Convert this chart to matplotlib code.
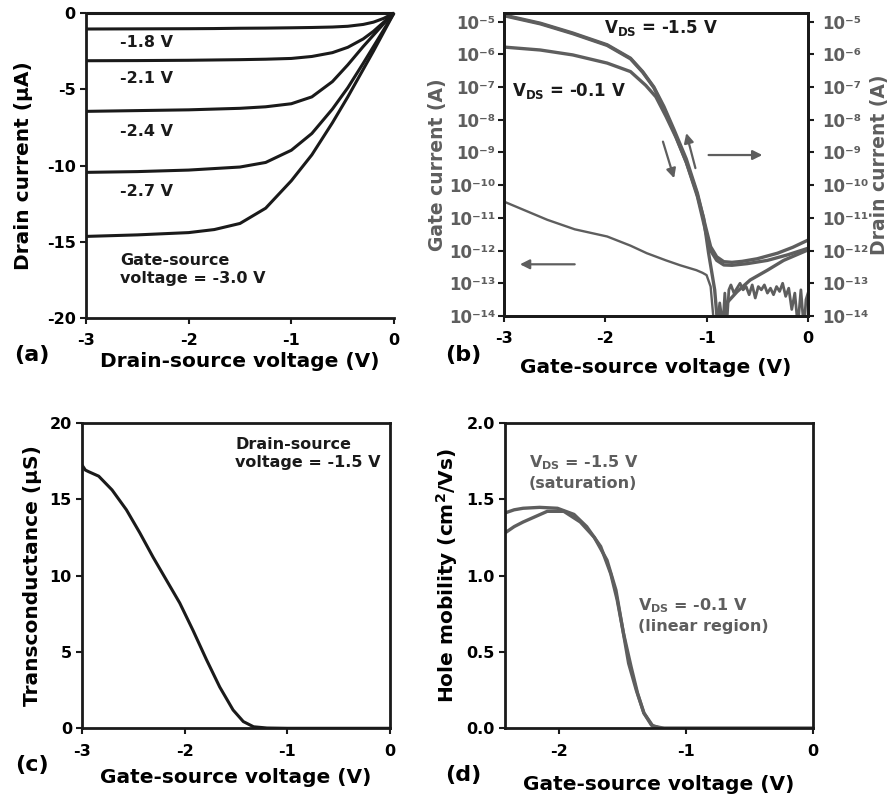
import numpy as np
import matplotlib
matplotlib.use('Agg')
import matplotlib.pyplot as plt
from matplotlib.ticker import FixedLocator, NullLocator, FixedFormatter

plt.rcParams['font.family'] = ['DejaVu Sans']
plt.rcParams['font.weight'] = 'bold'
plt.rcParams['axes.labelweight'] = 'bold'
plt.rcParams['mathtext.default'] = 'regular'
plt.rcParams['axes.unicode_minus'] = False

# ---------------- (a) output curves ----------------
vds = [-3.0, -2.5, -2.0, -1.75, -1.5, -1.25, -1.0, -0.8, -0.6, -0.45, -0.3, -0.2, -0.1, 0.0]
id_vgs15 = [0.0] * 14
id_vgs18 = [-1.05, -1.04, -1.03, -1.02, -1.0, -0.99, -0.97, -0.95, -0.92, -0.87, -0.75, -0.6, -0.35, 0.0]
id_vgs21 = [-3.13, -3.12, -3.1, -3.08, -3.06, -3.03, -2.98, -2.85, -2.6, -2.25, -1.7, -1.2, -0.6, 0.0]
id_vgs24 = [-6.45, -6.4, -6.35, -6.3, -6.25, -6.15, -5.95, -5.5, -4.5, -3.4, -2.2, -1.45, -0.7, 0.0]
id_vgs27 = [-10.45, -10.4, -10.3, -10.2, -10.1, -9.8, -9.0, -7.9, -6.3, -4.9, -3.3, -2.2, -1.1, 0.0]
id_vgs30 = [-14.65, -14.55, -14.4, -14.2, -13.8, -12.8, -11.0, -9.3, -7.2, -5.5, -3.7, -2.5, -1.25, 0.0]
curve_labels = ['-1.8 V', '-2.1 V', '-2.4 V', '-2.7 V']
label_y = [-1.95, -4.31, -7.78, -11.72]

# ---------------- (b) transfer curves, log10 of current (A) ----------------
vgs_d15a = [-3.0, -2.64, -2.32, -1.98, -1.75, -1.63, -1.52, -1.42, -1.32, -1.2, -1.09, -1.01,
            -0.96, -0.9, -0.83, -0.75, -0.65, -0.5, -0.3, -0.15, 0.0]
log_d15a = [-4.8, -5.05, -5.35, -5.71, -6.12, -6.53, -7.0, -7.6, -8.31, -9.2, -10.25, -11.27,
            -11.88, -12.19, -12.34, -12.36, -12.33, -12.25, -12.08, -11.9, -11.68]
vgs_d15b = [-3.0, -2.64, -2.32, -1.98, -1.75, -1.63, -1.52, -1.42, -1.32, -1.2, -1.09, -1.01,
            -0.96, -0.9, -0.83, -0.75, -0.6, -0.4, -0.2, 0.0]
log_d15b = [-4.82, -5.07, -5.37, -5.73, -6.14, -6.55, -7.02, -7.65, -8.38, -9.3, -10.35, -11.4,
            -12.0, -12.3, -12.44, -12.45, -12.4, -12.3, -12.13, -11.93]
vgs_d01 = [-3.0, -2.64, -2.32, -1.98, -1.75, -1.6, -1.5, -1.4, -1.3, -1.2, -1.1, -1.03, -0.98,
           -0.92, -0.89, -0.86, -0.8, -0.7, -0.57, -0.4, -0.24, 0.0]
log_d01 = [-5.78, -5.87, -6.02, -6.27, -6.53, -6.95, -7.3, -7.9, -8.55, -9.3, -10.2, -11.0, -12.08,
           -13.2, -14.3, -14.3, -13.6, -13.26, -12.9, -12.6, -12.3, -11.98]
vgs_gate = [-3.0, -2.57, -2.3, -1.98, -1.75, -1.59, -1.4, -1.26, -1.1, -1.04, -1.0, -0.96, -0.94, -0.92]
log_gate = [-10.5, -11.06, -11.35, -11.57, -11.85, -12.08, -12.3, -12.45, -12.6, -12.68, -12.75,
            -13.1, -13.8, -14.5]
vgs_gnoise = [-0.90, -0.87, -0.84, -0.82, -0.80, -0.78, -0.76, -0.73, -0.70, -0.67, -0.64, -0.61,
              -0.58, -0.55, -0.52, -0.49, -0.46, -0.43, -0.40, -0.37, -0.34, -0.31, -0.28, -0.25,
              -0.22, -0.19, -0.16, -0.13, -0.10, -0.07, -0.04, -0.02, 0.0]
log_gnoise = [-14.5, -13.6, -14.3, -13.3, -14.2, -13.2, -13.05, -13.3, -13.15, -13.0, -13.2, -13.1,
              -13.35, -13.05, -13.45, -13.1, -13.2, -13.05, -13.3, -13.15, -13.35, -13.1, -13.25,
              -13.0, -13.4, -13.15, -13.8, -13.3, -14.3, -13.2, -14.4, -13.5, -13.3]
decades = [-14, -13, -12, -11, -10, -9, -8, -7, -6, -5]

# ---------------- (c) transconductance ----------------
vgs_gm = [-3.0, -2.97, -2.94, -2.84, -2.71, -2.57, -2.44, -2.31, -2.18, -2.05, -1.92, -1.79,
          -1.66, -1.53, -1.43, -1.33, -1.2, -1.0, -0.5, 0.0]
gm = [17.2, 16.9, 16.8, 16.5, 15.6, 14.3, 12.8, 11.2, 9.7, 8.2, 6.4, 4.5, 2.7, 1.2, 0.44, 0.1,
      0.02, 0.0, 0.0, 0.0]

# ---------------- (d) hole mobility ----------------
vgs_mu_sat = [-2.42, -2.35, -2.28, -2.15, -2.01, -1.88, -1.78, -1.67, -1.59, -1.54, -1.49, -1.43,
              -1.38, -1.33, -1.27, -1.2, -1.0, 0.0]
mu_sat = [1.41, 1.43, 1.44, 1.446, 1.44, 1.40, 1.32, 1.19, 1.01, 0.84, 0.62, 0.40, 0.23, 0.10,
          0.02, 0.0, 0.0, 0.0]
vgs_mu_lin = [-2.42, -2.35, -2.28, -2.09, -1.96, -1.83, -1.72, -1.62, -1.55, -1.50, -1.45, -1.39,
              -1.33, -1.26, -1.17, -1.0, 0.0]
mu_lin = [1.28, 1.32, 1.35, 1.42, 1.42, 1.35, 1.25, 1.10, 0.905, 0.665, 0.425, 0.25, 0.10, 0.015,
          0.0, 0.0, 0.0]

BLACK = '#1a1a1a'
GRAY = '#5e5e5e'
W, H = 894, 801
SUP = str.maketrans('-0123456789', '\u207b\u2070\u00b9\u00b2\u00b3\u2074\u2075\u2076\u2077\u2078\u2079')


def axes_px(fig, l, t, r, b):
    return fig.add_axes([l / W, 1 - b / H, (r - l) / W, (b - t) / H])


def style(ax, fs=11.5):
    for s in ax.spines.values():
        s.set_linewidth(2.0)
        s.set_color(BLACK)
    ax.tick_params(direction='out', length=4, width=1.5, labelsize=fs, color=BLACK)
    ax.tick_params(axis='x', pad=7)


def log_axis(a, ticks, labels):
    a.set_yscale('log')
    a.yaxis.set_major_locator(FixedLocator(ticks))
    a.yaxis.set_major_formatter(FixedFormatter(labels))
    a.yaxis.set_minor_locator(NullLocator())


fig = plt.figure(figsize=(W / 100, H / 100), dpi=100)

# (a)
ax = axes_px(fig, 86, 13, 394, 318)
style(ax)
ax.spines['right'].set_visible(False)
ax.spines['top'].set_visible(False)
for ys in [id_vgs15, id_vgs18, id_vgs21, id_vgs24, id_vgs27, id_vgs30]:
    ax.plot(vds, ys, color=BLACK, lw=2.2, solid_capstyle='butt', clip_on=False)
ax.set_xlim(-3, 0)
ax.set_ylim(-20, 0)
ax.set_xticks([-3, -2, -1, 0])
ax.set_yticks([0, -5, -10, -15, -20])
for lab, y in zip(curve_labels, label_y):
    ax.text(-2.67, y, lab, fontsize=11.5, va='center', color=BLACK)
ax.text(-2.67, -16.85, 'Gate-source\nvoltage = -3.0 V', fontsize=11.5, va='center',
        color=BLACK, linespacing=1.25)
ax.set_ylabel('Drain current (\u03bcA)', fontsize=14.5)
ax.yaxis.set_label_coords(-0.172, 0.5)
ax.set_xlabel('Drain-source voltage (V)', fontsize=14.5)
ax.xaxis.set_label_coords(0.5, -0.112)
fig.text(32 / W, 1 - 355 / H, '(a)', fontsize=16, ha='center', va='center')

# (b)
ax = axes_px(fig, 503.7, 12.7, 808, 316)
style(ax)
yt = [10.0 ** d for d in decades]
ylab = ['10' + str(d).translate(SUP) for d in decades]
log_axis(ax, yt, ylab)
ax.plot(vgs_d15a, 10.0 ** np.array(log_d15a), color=GRAY, lw=2.4)
ax.plot(vgs_d15b, 10.0 ** np.array(log_d15b), color=GRAY, lw=2.4)
ax.plot(vgs_d01, 10.0 ** np.array(log_d01), color=GRAY, lw=2.4)
ax.plot(vgs_gate, 10.0 ** np.array(log_gate), color=GRAY, lw=1.7)
ax.plot(vgs_gnoise, 10.0 ** np.array(log_gnoise), color=GRAY, lw=2.0)
ax.set_xlim(-3, 0)
ax.set_ylim(1e-14, 10 ** -4.73)
ax.set_xticks([-3, -2, -1, 0])
ax.tick_params(axis='y', labelcolor=GRAY, pad=2, labelsize=12)
ax2 = ax.twinx()
log_axis(ax2, yt, ylab)
ax2.set_ylim(ax.get_ylim())
style(ax2)
ax2.tick_params(axis='y', labelcolor=GRAY, pad=6, labelsize=12)
arrow = dict(arrowstyle='-|>', color=GRAY, lw=1.6, mutation_scale=14, shrinkA=0, shrinkB=0)
ax.annotate('', xy=(-2.84, 10 ** -12.42), xytext=(-2.30, 10 ** -12.42), arrowprops=arrow)
ax.annotate('', xy=(-0.45, 10 ** -9.08), xytext=(-0.98, 10 ** -9.08), arrowprops=arrow)
ax.annotate('', xy=(-1.32, 10 ** -9.79), xytext=(-1.43, 10 ** -8.67), arrowprops=arrow)
ax.annotate('', xy=(-1.20, 10 ** -8.41), xytext=(-1.11, 10 ** -9.48), arrowprops=arrow)
ax.text(-2.01, 10 ** -5.2, r'V$_{\mathregular{DS}}$ = -1.5 V', fontsize=12, va='center', color=BLACK)
ax.text(-2.92, 10 ** -7.13, r'V$_{\mathregular{DS}}$ = -0.1 V', fontsize=12, va='center', color=BLACK)
ax.set_ylabel('Gate current (A)', fontsize=13.5, color=GRAY)
ax.yaxis.set_label_coords(-0.186, 0.5)
ax2.set_ylabel('Drain current (A)', fontsize=13.5, color=GRAY)
ax2.yaxis.set_label_coords(1.205, 0.5)
ax.set_xlabel('Gate-source voltage (V)', fontsize=14.5)
ax.xaxis.set_label_coords(0.5, -0.138)
fig.text(463 / W, 1 - 355 / H, '(b)', fontsize=16, ha='center', va='center')

# (c)
ax = axes_px(fig, 82.3, 422.7, 390, 728.3)
style(ax)
ax.plot(vgs_gm, gm, color=BLACK, lw=2.2)
ax.set_xlim(-3, 0)
ax.set_ylim(0, 20)
ax.set_xticks([-3, -2, -1, 0])
ax.set_yticks([0, 5, 10, 15, 20])
ax.text(-1.51, 18.0, 'Drain-source\nvoltage = -1.5 V', fontsize=11.5, va='center',
        color=BLACK, linespacing=1.25)
ax.set_ylabel('Transconductance (\u03bcS)', fontsize=14.5)
ax.yaxis.set_label_coords(-0.131, 0.5)
ax.set_xlabel('Gate-source voltage (V)', fontsize=14.5)
ax.xaxis.set_label_coords(0.5, -0.13)
fig.text(32 / W, 1 - 765 / H, '(c)', fontsize=16, ha='center', va='center')

# (d)
ax = axes_px(fig, 505.3, 422.7, 813, 728.3)
style(ax)
ax.plot(vgs_mu_sat, mu_sat, color=GRAY, lw=2.4)
ax.plot(vgs_mu_lin, mu_lin, color=GRAY, lw=2.4)
ax.set_xlim(-2.42, 0)
ax.set_ylim(0, 2.0)
ax.set_xticks([-2, -1, 0])
ax.set_yticks([0, 0.5, 1.0, 1.5, 2.0])
ax.set_yticklabels(['0.0', '0.5', '1.0', '1.5', '2.0'])
ax.text(-2.235, 1.675, r'V$_{\mathregular{DS}}$ = -1.5 V' + '\n(saturation)', fontsize=11.5,
        va='center', color=GRAY, linespacing=1.3)
ax.text(-1.38, 0.74, r'V$_{\mathregular{DS}}$ = -0.1 V' + '\n(linear region)', fontsize=11.5,
        va='center', color=GRAY, linespacing=1.3)
ax.set_ylabel('Hole mobility (cm$^2$/Vs)', fontsize=14.5)
ax.yaxis.set_label_coords(-0.147, 0.5)
ax.set_xlabel('Gate-source voltage (V)', fontsize=14.5)
ax.xaxis.set_label_coords(0.5, -0.153)
fig.text(463.7 / W, 1 - 775 / H, '(d)', fontsize=16, ha='center', va='center')

fig.savefig('out.png', dpi=100)
